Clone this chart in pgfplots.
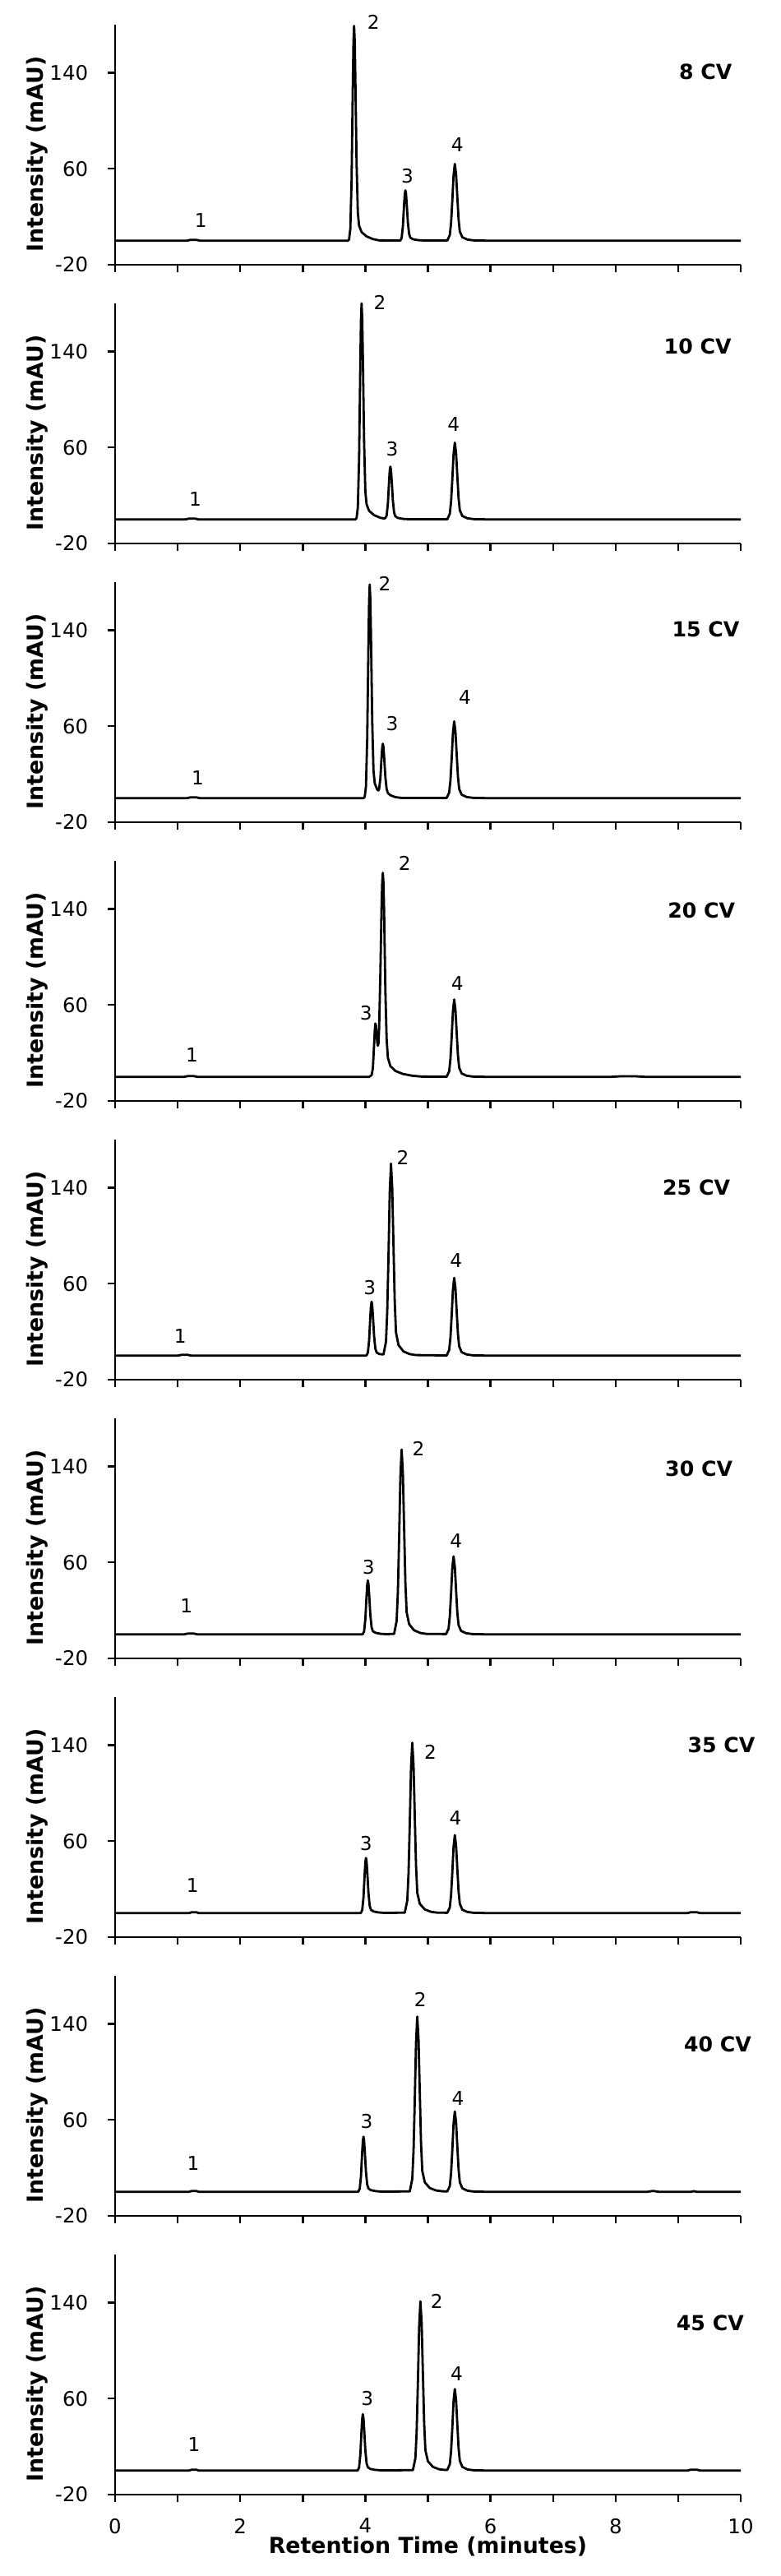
\documentclass[border=0pt]{standalone}
\usepackage{fontspec}
\setmainfont{DejaVu Sans}
\usepackage{pgfplots}
\pgfplotsset{compat=1.18}
\newcommand\labfont{\fontsize{6.7}{8}\selectfont\bfseries}
\tikzset{
 pk/.style={font=\fontsize{5.8}{7}\selectfont, inner sep=0pt},
 cv/.style={font=\fontsize{6.3}{7}\selectfont\bfseries, inner sep=0pt, anchor=east},
}
\pgfplotsset{
 panel/.style={
  scale only axis, width=190.25pt, height=73pt, anchor=south west,
  xmin=0, xmax=10, ymin=-20, ymax=180,
  axis lines=left, axis line style={line width=0.6pt, -},
  xtick={0,1,...,10}, ytick={-20,60,140}, yticklabels={-20,60,140},
  xticklabels={},
  tick align=outside, major tick length=2.2pt, tick style={line width=0.6pt, black},
  tick label style={font=\fontsize{6.1}{7}\selectfont},
  yticklabel style={xshift=-2.5pt},
  xticklabel style={yshift=-1.5pt},
  ylabel={Intensity (mAU)},
  every axis y label/.style={at={(axis description cs:-0.124,0.46)}, rotate=90, anchor=center, font=\labfont},
  every axis x label/.style={at={(axis description cs:0.5,0)}, yshift=-15.75pt, anchor=center, font=\labfont},
  clip=false,
 },
 curve/.style={black, line width=0.7pt, line join=round},
}
\begin{document}
\begin{tikzpicture}
\path[use as bounding box] (-35pt,-702.75pt) rectangle (202.5pt,80.5pt);
% 8 CV
\begin{axis}[panel, at={(0pt,0pt)}]
\addplot[curve] coordinates {(0,0)(1.15,0)(1.2,0.7)(1.3,0.7)(1.36,0)(3.72,0)(3.74,1.1)(3.76,10.0)(3.78,50.1)(3.80,130.7)(3.81,164.7)(3.82,179)(3.83,166.5)(3.84,136.0)(3.86,64.4)(3.88,23.3)(3.90,12.5)(3.94,7.2)(4.02,3.6)(4.12,1.4)(4.22,0.3)(4.56,0.2)(4.58,2.4)(4.60,11.8)(4.62,30.7)(4.63,38.6)(4.64,42)(4.65,39.1)(4.66,31.9)(4.68,15.1)(4.70,5.5)(4.72,2.5)(4.76,1.3)(4.84,0.5)(4.94,0.2)(5.31,0.2)(5.35,4.7)(5.37,14.7)(5.39,33.3)(5.41,54.4)(5.43,64)(5.45,55.7)(5.47,36.5)(5.49,17.9)(5.51,7.7)(5.55,2.9)(5.63,1.0)(5.73,0.3)(6.0,0)(10,0)};
\node[pk] at (axis cs:1.37,17) {1};
\node[pk] at (axis cs:4.13,182) {2};
\node[pk] at (axis cs:4.67,54) {3};
\node[pk] at (axis cs:5.47,80) {4};
\node[cv] at (axis cs:9.87,141) {8 CV};
\end{axis}
% 10 CV
\begin{axis}[panel, at={(0pt,-84.75pt)}]
\addplot[curve] coordinates {(0,0)(1.12,0)(1.18,0.7)(1.28,0.7)(1.34,0)(3.84,0)(3.86,1.1)(3.88,10.1)(3.90,50.4)(3.92,131.4)(3.93,165.6)(3.94,180)(3.95,167.4)(3.96,136.8)(3.98,64.8)(4.00,23.4)(4.02,12.6)(4.06,7.2)(4.14,3.6)(4.24,1.4)(4.30,0.8)(4.32,1.2)(4.34,3.2)(4.36,13)(4.38,32.5)(4.39,40.8)(4.40,44)(4.41,41)(4.42,33.4)(4.44,15.8)(4.46,5.7)(4.48,2.6)(4.52,1.3)(4.60,0.5)(4.70,0.2)(5.31,0.2)(5.35,4.7)(5.37,14.7)(5.39,33.3)(5.41,54.4)(5.43,64)(5.45,55.7)(5.47,36.5)(5.49,17.9)(5.51,7.7)(5.55,2.9)(5.63,1.0)(5.73,0.3)(6.0,0)(10,0)};
\node[pk] at (axis cs:1.28,17) {1};
\node[pk] at (axis cs:4.23,181) {2};
\node[pk] at (axis cs:4.43,59) {3};
\node[pk] at (axis cs:5.41,79) {4};
\node[cv] at (axis cs:9.86,144) {10 CV};
\end{axis}
% 15 CV
\begin{axis}[panel, at={(0pt,-169.5pt)}]
\addplot[curve] coordinates {(0,0)(1.15,0)(1.2,0.7)(1.3,0.7)(1.36,0)(3.97,0)(3.99,1.1)(4.01,10.0)(4.03,49.8)(4.05,129.9)(4.06,163.8)(4.07,178)(4.08,165.5)(4.09,135.3)(4.11,64.1)(4.13,23.1)(4.15,12.5)(4.17,9.8)(4.19,7.1)(4.21,6.5)(4.22,7.7)(4.24,16.3)(4.26,34.7)(4.27,42.2)(4.28,45.4)(4.29,42.3)(4.30,34.9)(4.32,17.7)(4.34,7.7)(4.36,4.3)(4.40,2.5)(4.48,0.9)(4.58,0.2)(5.30,0.2)(5.34,4.7)(5.36,14.7)(5.38,33.3)(5.40,54.4)(5.42,64)(5.44,55.7)(5.46,36.5)(5.48,17.9)(5.50,7.7)(5.54,2.9)(5.62,1.0)(5.72,0.3)(6.0,0)(10,0)};
\node[pk] at (axis cs:1.32,17) {1};
\node[pk] at (axis cs:4.31,179) {2};
\node[pk] at (axis cs:4.43,62) {3};
\node[pk] at (axis cs:5.59,84) {4};
\node[cv] at (axis cs:9.99,141) {15 CV};
\end{axis}
% 20 CV
\begin{axis}[panel, at={(0pt,-254.25pt)}]
\addplot[curve] coordinates {(0,0)(1.1,0)(1.16,0.7)(1.26,0.7)(1.32,0)(4.06,0)(4.10,1.5)(4.12,7)(4.14,27)(4.15,38)(4.16,44.5)(4.17,43)(4.18,36)(4.19,29)(4.20,26)(4.21,28)(4.22,40)(4.24,86)(4.26,143)(4.27,162)(4.28,170)(4.29,161)(4.30,138)(4.32,72)(4.34,32)(4.36,16)(4.40,9)(4.48,5)(4.60,2.5)(4.75,1)(4.90,0.3)(5.30,0.2)(5.34,4.7)(5.36,14.8)(5.38,33.5)(5.40,54.8)(5.42,64.5)(5.44,56.1)(5.46,36.8)(5.48,18.1)(5.50,7.7)(5.54,2.9)(5.62,1.0)(5.72,0.3)(6.0,0)(7.9,0)(8.1,0.6)(8.3,0.6)(8.5,0)(10,0)};
\node[pk] at (axis cs:1.23,18) {1};
\node[pk] at (axis cs:4.63,178) {2};
\node[pk] at (axis cs:4.01,53) {3};
\node[pk] at (axis cs:5.47,78) {4};
\node[cv] at (axis cs:9.92,139) {20 CV};
\end{axis}
% 25 CV
\begin{axis}[panel, at={(0pt,-339pt)}]
\addplot[curve] coordinates {(0,0)(1.0,0)(1.06,0.7)(1.16,0.7)(1.22,0)(4.00,0)(4.02,0.3)(4.04,2.5)(4.06,12.6)(4.08,32.9)(4.09,41.4)(4.10,45)(4.11,41.9)(4.12,34.2)(4.14,16.2)(4.16,5.9)(4.18,2.7)(4.22,1.4)(4.29,1.0)(4.33,11.7)(4.35,36.8)(4.37,83.2)(4.39,136)(4.41,160)(4.43,139.2)(4.45,91.2)(4.47,44.8)(4.49,19.2)(4.53,8.8)(4.61,3.5)(4.71,1.3)(4.81,0.5)(5.30,0.2)(5.34,4.8)(5.36,14.9)(5.38,33.7)(5.40,55.1)(5.42,64.8)(5.44,56.4)(5.46,36.9)(5.48,18.1)(5.50,7.8)(5.54,2.9)(5.62,1.0)(5.72,0.3)(6.0,0)(10,0)};
\node[pk] at (axis cs:1.04,16) {1};
\node[pk] at (axis cs:4.60,165) {2};
\node[pk] at (axis cs:4.07,57) {3};
\node[pk] at (axis cs:5.45,79) {4};
\node[cv] at (axis cs:9.84,140) {25 CV};
\end{axis}
% 30 CV
\begin{axis}[panel, at={(0pt,-423.75pt)}]
\addplot[curve] coordinates {(0,0)(1.1,0)(1.16,0.7)(1.26,0.7)(1.32,0)(3.94,0)(3.96,0.3)(3.98,2.5)(4.00,12.6)(4.02,32.9)(4.03,41.4)(4.04,45)(4.05,41.9)(4.06,34.2)(4.08,16.2)(4.10,5.9)(4.12,2.7)(4.16,1.4)(4.24,0.5)(4.34,0.2)(4.46,0.5)(4.50,11.2)(4.52,35.4)(4.54,80.1)(4.56,130.9)(4.58,154)(4.60,134.0)(4.62,87.8)(4.64,43.1)(4.66,18.5)(4.70,8.5)(4.78,3.4)(4.88,1.2)(4.98,0.4)(5.29,0.3)(5.33,4.7)(5.35,15.0)(5.37,33.8)(5.39,55.3)(5.41,65)(5.43,56.6)(5.45,37.1)(5.47,18.2)(5.49,7.8)(5.53,2.9)(5.61,1.0)(5.71,0.3)(6.0,0)(10,0)};
\node[pk] at (axis cs:1.14,24) {1};
\node[pk] at (axis cs:4.85,155) {2};
\node[pk] at (axis cs:4.05,56) {3};
\node[pk] at (axis cs:5.45,78) {4};
\node[cv] at (axis cs:9.88,138) {30 CV};
\end{axis}
% 35 CV
\begin{axis}[panel, at={(0pt,-508.5pt)}]
\addplot[curve] coordinates {(0,0)(1.18,0)(1.22,0.7)(1.3,0.7)(1.34,0)(3.91,0)(3.93,0.3)(3.95,2.6)(3.97,12.9)(3.99,33.6)(4.00,42.3)(4.01,46)(4.02,42.8)(4.03,35.0)(4.05,16.6)(4.07,6.0)(4.09,2.8)(4.13,1.4)(4.21,0.6)(4.31,0.2)(4.63,0.4)(4.67,10.4)(4.69,32.7)(4.71,73.8)(4.73,120.7)(4.75,142)(4.77,123.5)(4.79,80.9)(4.81,39.8)(4.83,17.0)(4.87,7.8)(4.95,3.1)(5.05,1.1)(5.15,0.4)(5.31,0.3)(5.35,4.7)(5.37,15.0)(5.39,33.8)(5.41,55.3)(5.43,65)(5.45,56.6)(5.47,37.1)(5.49,18.2)(5.51,7.8)(5.55,2.9)(5.63,1.0)(5.73,0.3)(6.0,0)(9.15,0)(9.2,0.8)(9.3,0.8)(9.35,0)(10,0)};
\node[pk] at (axis cs:1.24,23) {1};
\node[pk] at (axis cs:5.04,134) {2};
\node[pk] at (axis cs:4.01,58) {3};
\node[pk] at (axis cs:5.44,79) {4};
\node[cv] at (axis cs:10.24,140) {35 CV};
\end{axis}
% 40 CV
\begin{axis}[panel, at={(0pt,-593.25pt)}]
\addplot[curve] coordinates {(0,0)(1.18,0)(1.22,0.7)(1.3,0.7)(1.34,0)(3.87,0)(3.89,0.3)(3.91,2.6)(3.93,12.9)(3.95,33.6)(3.96,42.3)(3.97,46)(3.98,42.8)(3.99,35.0)(4.01,16.6)(4.03,6.0)(4.05,2.8)(4.09,1.4)(4.17,0.6)(4.27,0.2)(4.71,0.4)(4.75,10.7)(4.77,33.6)(4.79,75.9)(4.81,124.1)(4.83,146)(4.85,127.0)(4.87,83.2)(4.89,40.9)(4.91,17.5)(4.95,8.0)(5.03,3.2)(5.13,1.2)(5.23,0.5)(5.31,0.4)(5.35,4.9)(5.37,15.4)(5.39,34.8)(5.41,57.0)(5.43,67)(5.45,58.3)(5.47,38.2)(5.49,18.8)(5.51,8.0)(5.55,3.0)(5.63,1.0)(5.73,0.3)(6.0,0)(8.5,0)(8.6,0.8)(8.7,0)(9.2,0)(9.25,0.6)(9.3,0)(10,0)};
\node[pk] at (axis cs:1.25,24) {1};
\node[pk] at (axis cs:4.88,160) {2};
\node[pk] at (axis cs:4.02,59) {3};
\node[pk] at (axis cs:5.48,78) {4};
\node[cv] at (axis cs:10.18,123) {40 CV};
\end{axis}
% 45 CV
\begin{axis}[panel, at={(0pt,-678pt)}, xticklabels={0,,2,,4,,6,,8,,10}, xlabel={Retention Time (minutes)}]
\addplot[curve] coordinates {(0,0)(1.18,0)(1.22,0.7)(1.3,0.7)(1.34,0)(3.86,0)(3.88,0.3)(3.90,2.6)(3.92,13.2)(3.94,34.3)(3.95,43.2)(3.96,47)(3.97,43.7)(3.98,35.7)(4.00,16.9)(4.02,6.1)(4.04,2.8)(4.08,1.4)(4.16,0.6)(4.26,0.2)(4.76,0.4)(4.80,10.3)(4.82,32.4)(4.84,73.3)(4.86,119.9)(4.88,141)(4.90,122.7)(4.92,80.4)(4.94,39.5)(4.96,16.9)(5.00,7.8)(5.08,3.1)(5.18,1.1)(5.28,0.5)(5.31,0.6)(5.35,5.3)(5.37,15.9)(5.39,35.6)(5.41,58.0)(5.43,68)(5.45,59.2)(5.47,38.8)(5.49,19.0)(5.51,8.2)(5.55,3.1)(5.63,1.0)(5.73,0.3)(6.0,0)(9.15,0)(9.2,0.8)(9.3,0.8)(9.35,0)(10,0)};
\node[pk] at (axis cs:1.26,22) {1};
\node[pk] at (axis cs:5.14,141) {2};
\node[pk] at (axis cs:4.03,60) {3};
\node[pk] at (axis cs:5.46,81) {4};
\node[cv] at (axis cs:10.06,123) {45 CV};
\end{axis}
\end{tikzpicture}
\end{document}
